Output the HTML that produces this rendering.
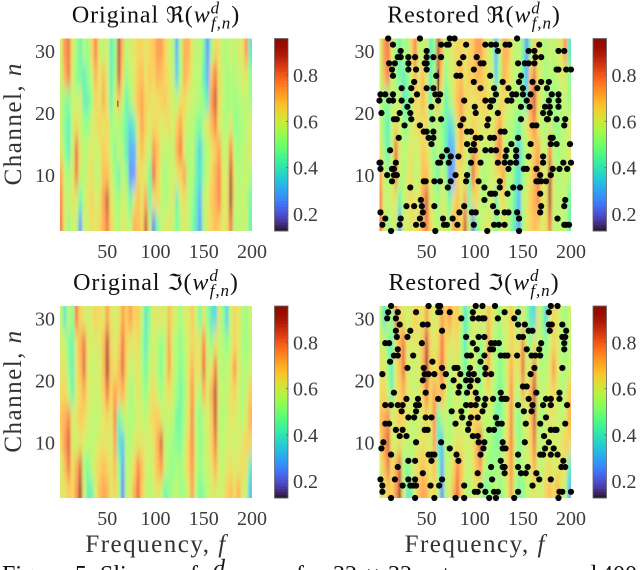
<!DOCTYPE html>
<html lang="en">
<head>
<meta charset="utf-8">
<title>Slices of channel weights</title>
<style>
html,body{margin:0;padding:0;background:#fff;}
svg{display:block;width:640px;height:570px;overflow:hidden;}
text{font-family:"Liberation Serif","DejaVu Serif",serif;}
.tick{font-size:20px;fill:#3c3c3c;}
.title{font-size:24px;fill:#111;letter-spacing:0.9px;}
.label{font-size:25px;fill:#333;letter-spacing:1.5px;}
.cap{font-size:24px;fill:#111;}
</style>
</head>
<body>
<svg id="fig" xmlns="http://www.w3.org/2000/svg" width="640" height="570" viewBox="0 0 640 570">
<defs>
<filter id="smooth" filterUnits="userSpaceOnUse" x="0" y="0" width="640" height="570"><feGaussianBlur stdDeviation="1.1 8"/></filter>
</defs>
</svg>
<script>
const freqCols = [2,6,10,14,18,22,26,30,34,38,42,46,50,54,58,62,66,70,74,78,82,86,90,94,98,102,106,110,114,118,122,126,130,134,138,142,146,150,154,158,162,166,170,174,178,182,186,190,194,198];
const channelRows = [30,26,22,18,14,10,6,2];

const reRow30 = [.60,.76,.80,.62,.52,.44,.55,.50,.66,.78,.60,.55,.60,.42,.50,.88,.70,.55,.60,.62,.66,.66,.62,.66,.68,.75,.75,.66,.60,.55,.30,.56,.72,.72,.62,.55,.58,.46,.25,.50,.66,.62,.56,.54,.60,.55,.60,.62,.76,.40];
const reRow26 = [.58,.72,.80,.60,.50,.46,.42,.50,.58,.72,.62,.70,.60,.42,.52,.86,.66,.50,.58,.60,.68,.70,.62,.68,.66,.72,.70,.66,.62,.58,.35,.54,.72,.68,.60,.56,.56,.42,.30,.70,.80,.62,.58,.52,.56,.54,.58,.60,.62,.50];
const reRow22 = [.56,.50,.48,.58,.56,.60,.42,.44,.52,.66,.62,.72,.62,.44,.58,.70,.55,.44,.52,.62,.70,.74,.66,.64,.62,.64,.66,.68,.62,.60,.55,.64,.66,.60,.58,.56,.54,.50,.40,.76,.86,.64,.58,.52,.54,.52,.54,.56,.58,.52];
const reRow18 = [.58,.48,.42,.56,.66,.58,.52,.50,.60,.62,.66,.62,.66,.52,.56,.54,.50,.44,.36,.42,.64,.74,.66,.60,.66,.64,.60,.62,.64,.58,.68,.74,.62,.56,.56,.50,.46,.56,.62,.70,.78,.62,.56,.54,.62,.50,.52,.54,.56,.60];
const reRow14 = [.62,.50,.42,.58,.82,.62,.55,.58,.62,.58,.60,.68,.64,.56,.48,.58,.52,.42,.28,.30,.62,.70,.62,.56,.76,.70,.60,.56,.58,.56,.72,.80,.62,.52,.58,.46,.34,.50,.56,.62,.68,.74,.58,.58,.78,.56,.52,.56,.56,.62];
const reRow10 = [.74,.58,.52,.60,.80,.58,.55,.60,.64,.56,.58,.70,.70,.60,.52,.44,.58,.50,.24,.28,.66,.62,.60,.46,.82,.68,.58,.52,.58,.58,.62,.66,.74,.54,.56,.44,.38,.50,.58,.64,.72,.78,.62,.60,.88,.62,.54,.56,.58,.54];
const reRow6  = [.78,.60,.56,.62,.60,.44,.56,.62,.66,.60,.62,.74,.86,.62,.56,.52,.60,.56,.44,.62,.70,.62,.74,.44,.62,.66,.58,.54,.56,.62,.42,.60,.64,.56,.52,.42,.30,.56,.60,.68,.72,.78,.62,.62,.92,.60,.56,.58,.56,.46];
const reRow2  = [.80,.62,.50,.60,.56,.26,.60,.58,.64,.62,.66,.72,.80,.66,.58,.54,.62,.58,.56,.72,.70,.66,.86,.58,.22,.46,.56,.60,.62,.58,.48,.54,.62,.58,.48,.40,.26,.52,.62,.66,.70,.68,.60,.64,.80,.56,.56,.56,.58,.44];

const imRow30 = [.56,.40,.56,.50,.80,.66,.62,.58,.62,.66,.64,.62,.74,.62,.60,.62,.74,.68,.74,.66,.68,.56,.40,.50,.62,.60,.62,.58,.70,.62,.58,.52,.60,.60,.68,.58,.46,.62,.50,.40,.36,.62,.50,.36,.58,.66,.62,.56,.52,.58];
const imRow26 = [.60,.58,.48,.44,.62,.72,.80,.62,.60,.62,.60,.70,.88,.66,.60,.66,.80,.66,.62,.62,.64,.52,.42,.54,.60,.56,.50,.56,.74,.58,.54,.50,.56,.60,.66,.62,.62,.78,.58,.50,.62,.58,.54,.50,.58,.66,.62,.54,.52,.56];
const imRow22 = [.62,.62,.50,.42,.62,.70,.82,.62,.58,.58,.60,.70,.94,.68,.62,.70,.82,.66,.56,.60,.62,.54,.46,.56,.62,.54,.48,.58,.74,.60,.54,.48,.54,.62,.72,.62,.64,.82,.60,.62,.80,.58,.54,.56,.62,.76,.62,.56,.54,.58];
const imRow18 = [.64,.66,.56,.44,.60,.66,.72,.62,.60,.58,.60,.66,.80,.66,.74,.68,.72,.62,.52,.58,.62,.56,.50,.60,.64,.58,.52,.60,.64,.58,.52,.46,.52,.62,.76,.60,.54,.72,.60,.72,.88,.60,.56,.58,.62,.66,.60,.54,.58,.68];
const imRow14 = [.70,.72,.78,.60,.62,.68,.66,.60,.58,.56,.58,.62,.66,.62,.78,.44,.54,.58,.54,.56,.60,.58,.56,.62,.66,.68,.62,.56,.58,.56,.46,.46,.54,.62,.78,.56,.48,.58,.58,.68,.86,.58,.54,.58,.62,.62,.58,.56,.60,.72];
const imRow10 = [.66,.76,.84,.62,.58,.64,.58,.58,.56,.58,.62,.62,.62,.60,.74,.40,.34,.56,.54,.60,.62,.62,.60,.60,.62,.72,.84,.58,.54,.52,.48,.48,.56,.66,.78,.58,.50,.54,.60,.66,.80,.58,.56,.60,.60,.58,.60,.62,.66,.66];
const imRow6  = [.60,.70,.80,.64,.72,.84,.54,.48,.56,.62,.66,.70,.66,.62,.70,.50,.28,.56,.58,.66,.78,.70,.60,.56,.62,.70,.76,.58,.52,.50,.54,.52,.58,.66,.76,.58,.50,.56,.58,.62,.72,.60,.56,.62,.64,.60,.62,.64,.62,.40];
const imRow2  = [.62,.62,.68,.66,.76,.92,.60,.42,.44,.60,.70,.74,.72,.62,.66,.54,.24,.56,.60,.72,.82,.68,.58,.54,.60,.62,.58,.44,.50,.54,.58,.50,.54,.60,.74,.56,.46,.50,.56,.60,.62,.58,.60,.66,.70,.64,.72,.62,.56,.32];

const reFreqs32=[10,43,74,79,144], reFreqs31=[15,65,71,73,91,111,117,122,132,136,167], reFreqs30=[23,50,124,156,162,187,193], reFreqs29=[20,23,31,38,50,57,65,88,102,163,169];
const reFreqs28=[11,17,31,48,50,84,106,109,145,152,156,162], reFreqs27=[14,31,39,50,99,185,187,195,200], reFreqs26=[15,60,81,85,116,148], reFreqs25=[37,99,129,146,160,169,177];
const reFreqs24=[24,34,50,57,106,120,135,150,165,175], reFreqs23=[2,7,15,40,59,64,122,139,143,150,158,180,187], reFreqs22=[1,11,15,24,34,62,89,111,117,119,134,138,154,177,187], reFreqs21=[30,55,100,116,148,157,173,178,187];
const reFreqs20=[3,22,33,101,124,171,178], reFreqs19=[16,19,34,56,65,88,114,148,175,176,185,194], reFreqs18=[27,43,85,113,160,164,193], reFreqs17=[47,50,57,92,96,127,131];
const reFreqs16=[21,52,57,101,106,116,120,145,179,181], reFreqs15=[55,92,99,138,158,179,185,199], reFreqs14=[12,71,96,100,111,117,122,133,143], reFreqs13=[66,75,83,132,143,156,171];
const reFreqs12=[1,2,18,62,64,73,96,106,124,131,137,143,171,192,200], reFreqs11=[2,14,16,135,151,154,164,181,188,196], reFreqs10=[9,16,19,80,92,168,179], reFreqs9=[14,47,49,58,64,75,91,104,126,164,166,169,174];
const reFreqs8=[33,72,110,126,140,147], reFreqs7=[116,118,121,134,168], reFreqs6=[44,110,194], reFreqs5=[29,37,45,58,89,119,169,193];
const reFreqs4=[2,46,84,97,101,123,131,135,144,168], reFreqs3=[7,23,43,67,77,146,186], reFreqs2=[4,22,39,46,68,71,82,99,120,125,131,193,195,198], reFreqs1=[13,59,113,146];

const imFreqs32=[13,52,62,64,101,108,121,179,186], imFreqs31=[10,20,39,62,64,74,98,131,145,177], imFreqs30=[9,18,86,98,104,108,110,124,141], imFreqs29=[22,46,51,145,152,177,180,191];
const imFreqs28=[18,33,66,156,160,178,195], imFreqs27=[19,30,91,104,110,146,150,191,194], imFreqs26=[7,11,45,98,117,121,125,169,193], imFreqs25=[20,102,116,119,154,167,193];
const imFreqs24=[16,20,36,92,96,110,127,131,134,144,159,163,168], imFreqs23=[12,56,106], imFreqs22=[30,47,66,79,82,95,111,162,191], imFreqs21=[4,48,52,58,70,85,94,99,111,117,158];
const imFreqs20=[46,78,91,96,103], imFreqs19=[67,84,95,150,154], imFreqs18=[16,49,83,92,101,127,164,188], imFreqs17=[29,41,62,103,111,119,128,131,133,156,174,179,188];
const imFreqs16=[7,13,20,25,39,42,91,96,101,110,145,160,171,179,196], imFreqs15=[24,39,76,86,108,151,159], imFreqs14=[31,37,49,55,87,96,103,122,174], imFreqs13=[7,11,80,94,124,128,153,168,194];
const imFreqs12=[18,25,48,51,93,115,120,179,183,185], imFreqs11=[22,29,98,103,172], imFreqs10=[5,39,65,104,110,129,152,177], imFreqs9=[3,74,109,129,132,173,182];
const imFreqs8=[13,52,55,58,81,106,145,168,171,179,186], imFreqs7=[31,38,55,83,127,192], imFreqs6=[20,117,129,131,145,155,190,194], imFreqs5=[46,103,131,148,153,164];
const imFreqs4=[2,17,31,38,66,118,167,179], imFreqs3=[4,25,33,36,39,54,63,89,106,160], imFreqs2=[4,100,103,111,120,124,145,188,191,200], imFreqs1=[13,38,58,80,89,115,122,141,187];

const xTickValues = [50,100,150,200];
const yTickValues = [10,20,30];
const barTickValues = [0.2,0.4,0.6,0.8];

const reMatrix = [reRow30,reRow26,reRow22,reRow18,reRow14,reRow10,reRow6,reRow2];
const imMatrix = [imRow30,imRow26,imRow22,imRow18,imRow14,imRow10,imRow6,imRow2];
const reScatter = [reFreqs1,reFreqs2,reFreqs3,reFreqs4,reFreqs5,reFreqs6,reFreqs7,reFreqs8,reFreqs9,reFreqs10,reFreqs11,reFreqs12,reFreqs13,reFreqs14,reFreqs15,reFreqs16,reFreqs17,reFreqs18,reFreqs19,reFreqs20,reFreqs21,reFreqs22,reFreqs23,reFreqs24,reFreqs25,reFreqs26,reFreqs27,reFreqs28,reFreqs29,reFreqs30,reFreqs31,reFreqs32];
const imScatter = [imFreqs1,imFreqs2,imFreqs3,imFreqs4,imFreqs5,imFreqs6,imFreqs7,imFreqs8,imFreqs9,imFreqs10,imFreqs11,imFreqs12,imFreqs13,imFreqs14,imFreqs15,imFreqs16,imFreqs17,imFreqs18,imFreqs19,imFreqs20,imFreqs21,imFreqs22,imFreqs23,imFreqs24,imFreqs25,imFreqs26,imFreqs27,imFreqs28,imFreqs29,imFreqs30,imFreqs31,imFreqs32];

const NS = 'http://www.w3.org/2000/svg';
const fig = document.getElementById('fig');
const COLOR_MIN = 0.127, COLOR_MAX = 0.957;

function mk(tag, parent, attrs){
  const el = document.createElementNS(NS, tag);
  for (const k in attrs) el.setAttribute(k, attrs[k]);
  parent.appendChild(el);
  return el;
}
function turbo(t){
  t = Math.max(0, Math.min(1, t));
  const r = 34.61 + t*(1172.33 - t*(10793.56 - t*(33300.12 - t*(38394.49 - t*14825.05))));
  const g = 23.31 + t*(557.33 + t*(1225.33 - t*(3574.96 - t*(1073.77 + t*707.56))));
  const b = 27.2 + t*(3211.1 - t*(15327.97 - t*(27814 - t*(22569.18 - t*6838.66))));
  return 'rgb(' + [r,g,b].map(v => Math.round(Math.max(0, Math.min(255, v)))).join(',') + ')';
}
function valueColor(v){ return turbo((v - COLOR_MIN) / (COLOR_MAX - COLOR_MIN)); }

function drawPanel(ax, matrix, scatter, names){
  const panel = mk('g', fig, {});
  
  
  const xPos = f => ax.left + (f - 1) * (ax.right - ax.left) / 199;
  const yPos = n => ax.bottom - (n - 1) * (ax.bottom - ax.top) / 31;
  const clipId = 'clip-' + names.panel;
  const clip = mk('clipPath', panel, {id: clipId});
  mk('rect', clip, {x: ax.left, y: ax.top, width: ax.right - ax.left, height: ax.bottom - ax.top});
  const clipG = mk('g', panel, {'clip-path': 'url(#' + clipId + ')'});
  const heat = mk('g', clipG, {filter: 'url(#smooth)', opacity: 0.74});
  
  
  const colStep = freqCols[1] - freqCols[0];
  const rowStep = channelRows[0] - channelRows[1];
  matrix.forEach((row, r) => {
    row.forEach((v, c) => {
      const f0 = c === 0 ? -30 : freqCols[c] - colStep / 2;
      const f1 = c === row.length - 1 ? 230 : freqCols[c] + colStep / 2;
      const n1 = r === 0 ? 50 : channelRows[r] + rowStep / 2;
      const n0 = r === matrix.length - 1 ? -18 : channelRows[r] - rowStep / 2;
      const cell = mk('rect', heat, {x: xPos(f0), y: yPos(n1), width: xPos(f1) - xPos(f0) + 0.4, height: yPos(n0) - yPos(n1) + 0.4, fill: valueColor(v)});
      
      
    });
  });
  mk('line', clipG, {x1: xPos(names.markF), x2: xPos(names.markF), y1: yPos(names.markN0), y2: yPos(names.markN1), stroke: '#222', 'stroke-width': 0.8});

  if (scatter) {
    const dots = mk('g', panel, {});
    
    
    scatter.forEach((freqs, i) => {
      freqs.forEach(f => {
        const dot = mk('circle', dots, {cx: xPos(f), cy: yPos(i + 1), r: 3.1, fill: '#050505'});
        
        
      });
    });
  }

  xTickValues.forEach(t => {
    const lab = mk('text', panel, {x: xPos(t), y: ax.bottom + 27, 'text-anchor': 'middle', class: 'tick'});
    lab.textContent = t;
    
    
  });
  yTickValues.forEach(t => {
    const lab = mk('text', panel, {x: ax.left - 5, y: yPos(t) + 7, 'text-anchor': 'end', class: 'tick'});
    lab.textContent = t;
    
    
  });

  const bar = mk('g', panel, {});
  
  
  const barY = v => ax.bottom - (v - COLOR_MIN) * (ax.bottom - ax.top) / (COLOR_MAX - COLOR_MIN);
  const steps = 64;
  for (let i = 0; i < steps; i++) {
    const v0 = COLOR_MIN + (COLOR_MAX - COLOR_MIN) * i / steps;
    const v1 = COLOR_MIN + (COLOR_MAX - COLOR_MIN) * (i + 1) / steps;
    const seg = mk('rect', bar, {x: ax.barLeft, y: barY(v1), width: ax.barWidth, height: barY(v0) - barY(v1) + 0.3, fill: valueColor((v0 + v1) / 2)});
    
    
  }
  mk('rect', bar, {x: ax.barLeft, y: ax.top, width: ax.barWidth, height: ax.bottom - ax.top, fill: 'none', stroke: '#666', 'stroke-width': 0.8});
  barTickValues.forEach(v => {
    mk('line', bar, {x1: ax.barLeft + ax.barWidth - 2, x2: ax.barLeft + ax.barWidth, y1: barY(v), y2: barY(v), stroke: '#555', 'stroke-width': 0.7});
    const lab = mk('text', bar, {x: ax.barLeft + ax.barWidth + 5, y: barY(v) + 7, class: 'tick'});
    lab.textContent = v.toFixed(1);
    
    
  });

  const title = mk('text', panel, {x: ax.titleX, y: ax.top - 16, 'text-anchor': 'middle', class: 'title'});
  
  
  const t1 = mk('tspan', title, {}); t1.textContent = names.title + ' ';
  const t2 = mk('tspan', title, {style: 'font-family:"DejaVu Sans",serif;font-size:22px'}); t2.textContent = names.sym;
  const t3 = mk('tspan', title, {}); t3.textContent = '(';
  const t4 = mk('tspan', title, {'font-style': 'italic'}); t4.textContent = 'w';
  const t5 = mk('tspan', title, {'font-style': 'italic', 'font-size': '17', dy: -9}); t5.textContent = 'd';
  const t6 = mk('tspan', title, {'font-style': 'italic', 'font-size': '17', dy: 15, dx: -9}); t6.textContent = 'f,n';
  const t7 = mk('tspan', title, {dy: -6}); t7.textContent = ')';

  if (ax.yLabel) {
    const yl = mk('text', panel, {transform: 'translate(21,' + ((ax.top + ax.bottom) / 2 - 11) + ') rotate(-90)', 'text-anchor': 'middle', class: 'label'});
    
    
    const a = mk('tspan', yl, {}); a.textContent = 'Channel, ';
    const b = mk('tspan', yl, {'font-style': 'italic'}); b.textContent = 'n';
  }
  if (ax.xLabel) {
    const xl = mk('text', panel, {x: (ax.left + ax.right) / 2, y: ax.bottom + 54, 'text-anchor': 'middle', class: 'label'});
    
    
    const a = mk('tspan', xl, {}); a.textContent = 'Frequency, ';
    const b = mk('tspan', xl, {'font-style': 'italic'}); b.textContent = 'f';
  }
}

const L = {left: 60, right: 252, barLeft: 274.5, barWidth: 13.5};
const R = {left: 379.5, right: 571, barLeft: 593, barWidth: 13.5};
drawPanel({...L, top: 38.5, bottom: 231, titleX: 156, yLabel: true}, reMatrix, null, {panel: 'original-real', title: 'Original', sym: 'ℜ', markF: 61, markN0: 21, markN1: 22});
drawPanel({...R, top: 38.5, bottom: 231, titleX: 474}, reMatrix, reScatter, {panel: 'restored-real', title: 'Restored', sym: 'ℜ', markF: 62, markN0: 22.5, markN1: 27});
drawPanel({...L, top: 306, bottom: 498, titleX: 156, yLabel: true, xLabel: true}, imMatrix, null, {panel: 'original-imag', title: 'Original', sym: 'ℑ', markF: 0, markN0: 0, markN1: 0});
drawPanel({...R, top: 306, bottom: 498, titleX: 474, xLabel: true}, imMatrix, imScatter, {panel: 'restored-imag', title: 'Restored', sym: 'ℑ', markF: 0, markN0: 0, markN1: 0});

const caption = mk('g', fig, {});


[['Figure', 2, 582, false], ['5:', 75, 582, false], ['Slices', 100, 582, false], ['of', 178, 582, false], ['d', 213, 576, true], ['for', 296, 582, false], ['32', 333, 582, false], ['×', 366, 582, false], ['32', 388, 582, false], ['antenna', 420, 582, false], ['array', 505, 582, false], ['and', 562, 582, false], ['400', 601, 582, false]].forEach(p => {
  const t = mk('text', caption, {x: p[1], y: p[2], class: 'cap', 'font-style': p[3] ? 'italic' : 'normal'});
  t.textContent = p[0];
});
</script>
</body>
</html>
